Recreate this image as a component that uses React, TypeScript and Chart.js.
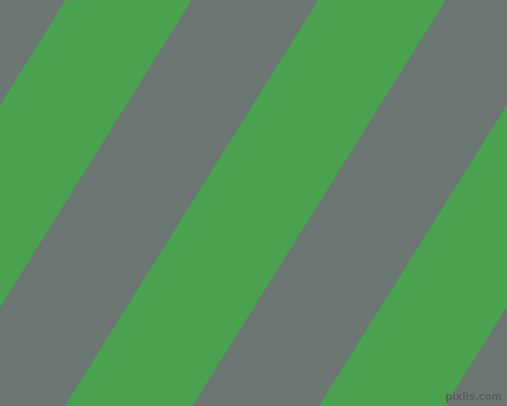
import { useEffect, useRef } from "react";
import { Chart, registerables } from "chart.js";

Chart.register(...registerables);

// stripe edges, read as x where each edge crosses the top row (y = 0)
const stripeStart = [65.7, 318.3, 572.3];
const stripeEnd = [191.7, 445.7, 698.3];
// horizontal shift of an edge per pixel down
const edgeShift = 0.624;
const edgeXs = [-400, 900];

const width = 507;
const height = 406;

const gray = "#6c7774";
const green = "#4aa14f";

const edgeLine = (u: number) =>
  edgeXs.map((x) => ({ x, y: (u - x) / edgeShift }));

const backdrop = {
  id: "backdrop",
  beforeDraw(chart: Chart) {
    const { ctx } = chart;
    ctx.save();
    ctx.fillStyle = gray;
    ctx.fillRect(0, 0, chart.width, chart.height);
    ctx.restore();
  },
};

const watermark = {
  id: "watermark",
  afterDraw(chart: Chart) {
    const { ctx } = chart;
    ctx.save();
    ctx.font = "bold 10px 'DejaVu Sans', sans-serif";
    ctx.textAlign = "right";
    ctx.textBaseline = "alphabetic";
    ctx.fillStyle = "#56605d";
    ctx.fillText("pixlis.com", chart.width - 5, chart.height - 6);
    ctx.restore();
  },
};

export default function App() {
  const chartRef = useRef<HTMLCanvasElement>(null);
  const chartInstance = useRef<Chart | null>(null);

  useEffect(() => {
    document.body.style.margin = "0";
    if (!chartRef.current) {
      return;
    }
    const ctx = chartRef.current.getContext("2d");
    if (!ctx) {
      return;
    }

    const datasets: any[] = [];
    stripeStart.forEach((start, i) => {
      datasets.push({
        data: edgeLine(start),
        borderWidth: 0,
        pointRadius: 0,
        fill: false,
      });
      datasets.push({
        data: edgeLine(stripeEnd[i]),
        borderWidth: 0,
        pointRadius: 0,
        backgroundColor: green,
        fill: "-1",
      });
    });

    chartInstance.current = new Chart(ctx, {
      type: "line",
      data: { datasets },
      options: {
        animation: false,
        responsive: true,
        maintainAspectRatio: false,
        layout: { padding: 0 },
        plugins: {
          legend: { display: false },
          tooltip: { enabled: false },
        },
        scales: {
          x: { type: "linear", min: 0, max: width, display: false },
          y: { type: "linear", min: 0, max: height, reverse: true, display: false },
        },
      },
      plugins: [backdrop, watermark],
    });

    return () => {
      if (chartInstance.current) {
        chartInstance.current.destroy();
      }
    };
  }, []);

  return (
    <div style={{ width, height, background: gray }}>
      <canvas ref={chartRef} />
    </div>
  );
}
